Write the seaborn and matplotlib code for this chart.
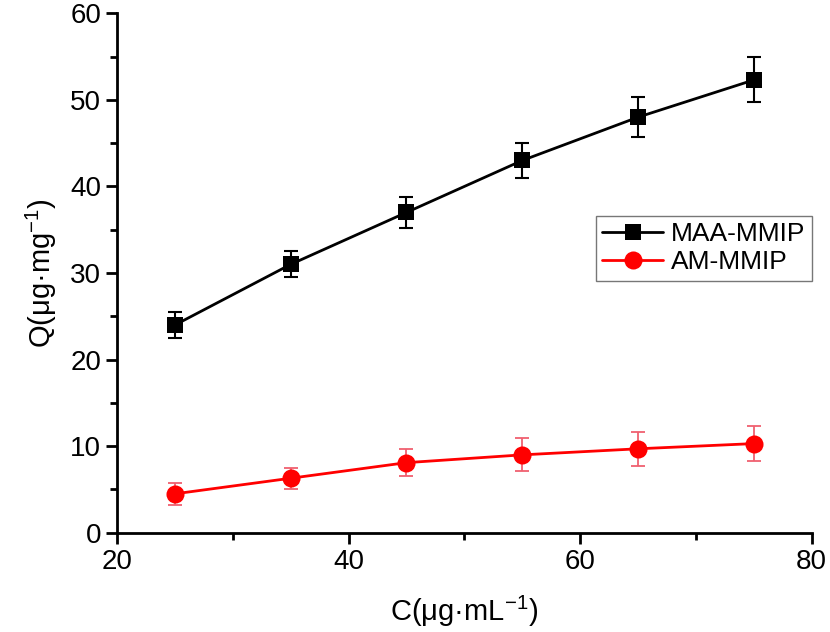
import matplotlib
matplotlib.use("Agg")
import matplotlib.pyplot as plt
import seaborn as sns
import pandas as pd
from matplotlib.ticker import MultipleLocator

# Data
conc = [25, 35, 45, 55, 65, 75]
maa_q = [24.0, 31.0, 37.0, 43.0, 48.0, 52.3]
maa_err = [1.5, 1.5, 1.8, 2.0, 2.3, 2.6]
am_q = [4.5, 6.3, 8.1, 9.0, 9.7, 10.3]
am_err = [1.3, 1.2, 1.6, 1.9, 1.95, 2.05]

maa_df = pd.DataFrame({"C": conc, "Q": maa_q})
am_df = pd.DataFrame({"C": conc, "Q": am_q})

sns.set_style("ticks")
plt.rcParams["font.family"] = ["Liberation Sans", "DejaVu Sans"]
plt.rcParams["mathtext.fontset"] = "custom"
plt.rcParams["mathtext.rm"] = "Liberation Sans"
plt.rcParams["mathtext.it"] = "Liberation Sans"
for key in ["text.color", "axes.labelcolor", "xtick.color", "ytick.color", "axes.edgecolor"]:
    plt.rcParams[key] = "black"

fig = plt.figure(figsize=(8.3, 6.32), dpi=100)
ax = fig.add_axes([0.141, 0.157, 0.837, 0.822])

# error bars first so markers sit on top
ax.errorbar(conc, maa_q, yerr=maa_err, fmt="none", ecolor="black",
            elinewidth=1.5, capsize=5, capthick=1.5, zorder=2)
ax.errorbar(conc, am_q, yerr=am_err, fmt="none", ecolor="#f06070",
            elinewidth=1.3, capsize=5, capthick=1.3, zorder=2)

sns.lineplot(data=maa_df, x="C", y="Q", color="black", marker="s",
             markersize=11, markeredgewidth=0, linewidth=2,
             label="MAA-MMIP", ax=ax, zorder=3)
sns.lineplot(data=am_df, x="C", y="Q", color="#ff0000", marker="o",
             markersize=13, markeredgewidth=0, linewidth=2,
             label="AM-MMIP", ax=ax, zorder=3)

ax.set_xlim(20, 80)
ax.set_ylim(0, 60)
ax.xaxis.set_major_locator(MultipleLocator(20))
ax.xaxis.set_minor_locator(MultipleLocator(10))
ax.yaxis.set_major_locator(MultipleLocator(10))
ax.yaxis.set_minor_locator(MultipleLocator(5))
ax.tick_params(which="major", length=8, width=2, labelsize=20, direction="out")
ax.tick_params(which="minor", length=5, width=2, direction="out")
for s in ["left", "bottom"]:
    ax.spines[s].set_linewidth(2)
sns.despine(ax=ax)

ax.set_xlabel(r"C(μg·mL$^{-1}$)", fontsize=21, labelpad=14)
ax.set_ylabel(r"Q(μg·mg$^{-1}$)", fontsize=21, labelpad=8)

leg = ax.legend(loc="upper right", bbox_to_anchor=(1.0, 0.61), fontsize=19,
                frameon=True, fancybox=False, edgecolor="#555555",
                handlelength=2.3, borderpad=0.25, labelspacing=0.15,
                handletextpad=0.3, borderaxespad=0)
leg.get_frame().set_linewidth(1)

fig.savefig("out.png", dpi=100)
